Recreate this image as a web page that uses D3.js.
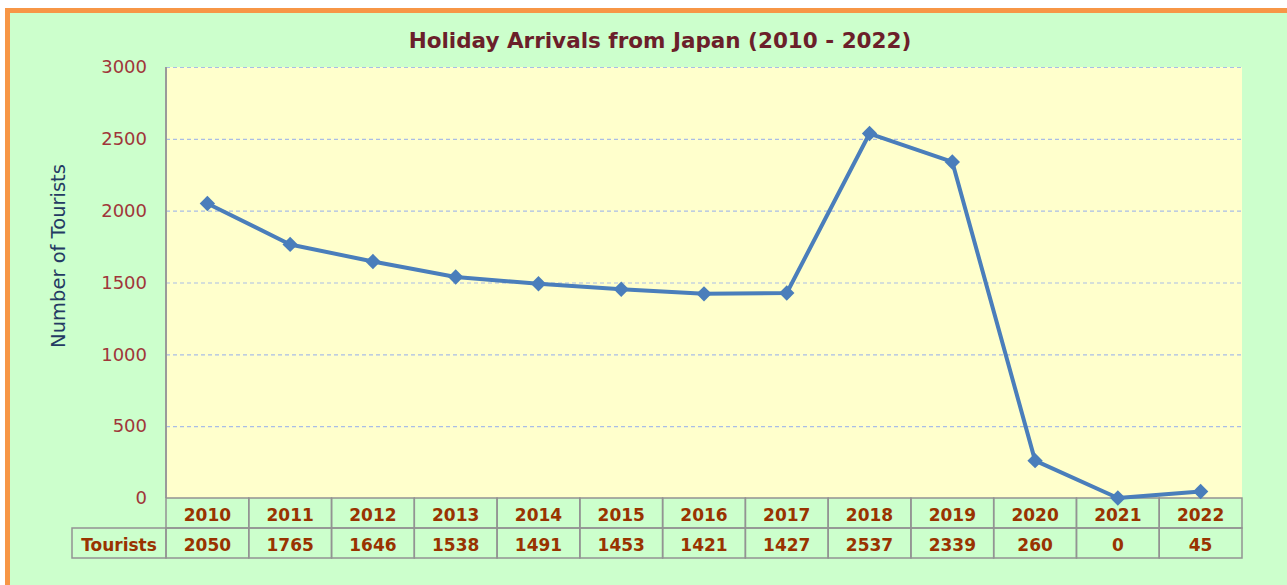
<!DOCTYPE html>
<html>
<head>
  <meta charset="utf-8">
  <title>Holiday Arrivals from Japan</title>
  <script src="https://d3js.org/d3.v7.min.js"></script>
  <style>
    body { margin: 0; background-color: #fff; overflow: hidden; }
    svg { display: block; font-family: "DejaVu Sans", Verdana, sans-serif; }
  </style>
</head>
<body>
  <div id="chart"></div>
  <script>
    // chart data
    var years = ["2010", "2011", "2012", "2013", "2014", "2015", "2016", "2017", "2018", "2019", "2020", "2021", "2022"];
    var tourists = [2050, 1765, 1646, 1538, 1491, 1453, 1421, 1427, 2537, 2339, 260, 0, 45];
    var yTicks = [0, 500, 1000, 1500, 2000, 2500, 3000];
    var rowLabel = "Tourists";

    var W = 1287, H = 585;
    var margin = {top: 67, left: 166, right: 45, bottom: 87};
    var width = W - margin.left - margin.right,
        height = H - margin.top - margin.bottom;

    var svg = d3.select("#chart").append("svg")
      .attr("width", W)
      .attr("height", H);

    // outer frame
    svg.append("rect")
      .attr("x", 7.5).attr("y", 10.5)
      .attr("width", W + 20).attr("height", H + 20)
      .attr("fill", "#ccffcc")
      .attr("stroke", "#f79646")
      .attr("stroke-width", 5);

    svg.append("text")
      .attr("x", 660).attr("y", 48)
      .attr("text-anchor", "middle")
      .attr("fill", "#6b1f2a")
      .style("font-size", "21.5px")
      .style("font-weight", "bold")
      .text("Holiday Arrivals from Japan (2010 - 2022)");

    var g = svg.append("g")
      .attr("transform", "translate(" + margin.left + "," + margin.top + ")");

    var x = d3.scaleBand().domain(years).range([0, width]);
    var y = d3.scaleLinear().domain([0, 3000]).range([height, 0]);

    g.append("rect")
      .attr("width", width).attr("height", height)
      .attr("fill", "#ffffcc");

    // gridlines
    g.append("g")
      .call(d3.axisLeft(y).tickValues(yTicks.slice(1)).tickSize(-width).tickFormat(""))
      .call(function(a) {
        a.select(".domain").remove();
        a.selectAll("line")
          .attr("stroke", "#a9bde6")
          .attr("stroke-width", 1.2)
          .attr("stroke-dasharray", "4,3");
      });

    // y axis labels
    g.append("g")
      .call(d3.axisLeft(y).tickValues(yTicks).tickSize(0).tickPadding(19).tickFormat(d3.format("d")))
      .call(function(a) {
        a.select(".domain").remove();
        a.selectAll("text")
          .attr("fill", "#a0363a")
          .style("font-size", "18px")
          .style("font-family", "'DejaVu Sans', Verdana, sans-serif");
      });

    g.append("line")
      .attr("x1", 0).attr("x2", 0)
      .attr("y1", 0).attr("y2", height)
      .attr("stroke", "#9a9a9a")
      .attr("stroke-width", 2);

    svg.append("text")
      .attr("transform", "translate(65,256) rotate(-90)")
      .attr("text-anchor", "middle")
      .attr("fill", "#243a63")
      .style("font-size", "19.5px")
      .text("Number of Tourists");

    // data table
    var rowH = 30;
    var tableLeft = 72 - margin.left;
    var tbl = g.append("g").attr("transform", "translate(0," + height + ")");
    var cellStroke = "#939393";

    tbl.selectAll(".hdr")
      .data(years)
      .enter().append("rect")
      .attr("x", function(d) { return x(d); })
      .attr("y", 0)
      .attr("width", x.bandwidth())
      .attr("height", rowH)
      .attr("fill", "none")
      .attr("stroke", cellStroke)
      .attr("stroke-width", 1.5);

    tbl.selectAll(".val")
      .data(years)
      .enter().append("rect")
      .attr("x", function(d) { return x(d); })
      .attr("y", rowH)
      .attr("width", x.bandwidth())
      .attr("height", rowH)
      .attr("fill", "none")
      .attr("stroke", cellStroke)
      .attr("stroke-width", 1.5);

    tbl.append("rect")
      .attr("x", tableLeft).attr("y", rowH)
      .attr("width", -tableLeft).attr("height", rowH)
      .attr("fill", "none")
      .attr("stroke", cellStroke)
      .attr("stroke-width", 1.5);

    var tstyle = function(s) {
      s.attr("fill", "#993300")
        .attr("text-anchor", "middle")
        .style("font-size", "17px")
        .style("font-weight", "bold");
    };

    tbl.selectAll(".yr")
      .data(years)
      .enter().append("text")
      .attr("x", function(d) { return x(d) + x.bandwidth() / 2; })
      .attr("y", 23)
      .text(function(d) { return d; })
      .call(tstyle);

    tbl.selectAll(".tv")
      .data(tourists)
      .enter().append("text")
      .attr("x", function(d, i) { return x(years[i]) + x.bandwidth() / 2; })
      .attr("y", rowH + 23)
      .text(function(d) { return d; })
      .call(tstyle);

    tbl.append("text")
      .attr("x", tableLeft / 2)
      .attr("y", rowH + 23)
      .text(rowLabel)
      .call(tstyle);

    // line + markers
    var pts = years.map(function(d, i) { return {year: d, value: tourists[i]}; });

    g.append("path")
      .datum(pts)
      .attr("fill", "none")
      .attr("stroke", "#4a7ebb")
      .attr("stroke-width", 4)
      .attr("stroke-linejoin", "round")
      .attr("d", d3.line()
        .x(function(d) { return x(d.year) + x.bandwidth() / 2; })
        .y(function(d) { return y(d.value); }));

    g.selectAll(".pt")
      .data(pts)
      .enter().append("path")
      .attr("d", d3.symbol().type(d3.symbolDiamond2).size(150))
      .attr("transform", function(d) {
        return "translate(" + (x(d.year) + x.bandwidth() / 2) + "," + y(d.value) + ")";
      })
      .attr("fill", "#4a7ebb");
  </script>
</body>
</html>
